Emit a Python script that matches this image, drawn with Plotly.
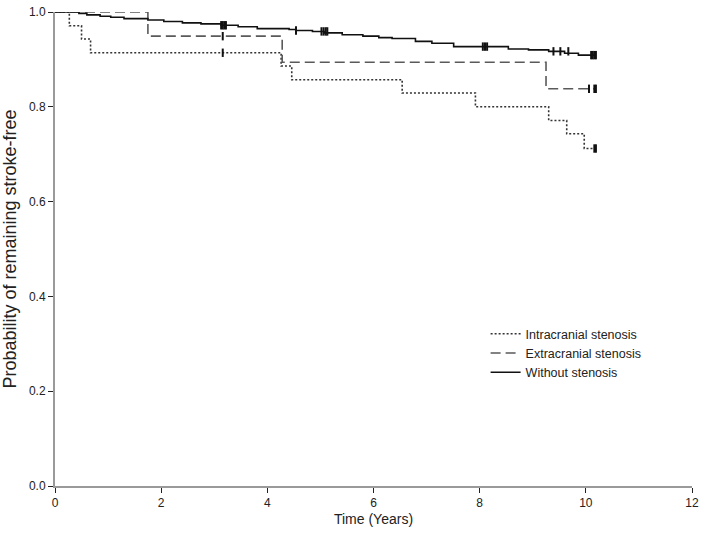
import plotly.graph_objects as go

# ---- data ----
intra_t = [0.0, 0.27, 0.50, 0.67, 4.26, 4.46, 6.54, 7.92, 9.30, 9.64, 9.97, 10.18]
intra_s = [1.0, 0.971, 0.943, 0.914, 0.886, 0.857, 0.829, 0.800, 0.771, 0.743, 0.712, 0.712]
intra_cens_t = [3.16, 10.16, 10.19]
intra_cens_s = [0.914, 0.712, 0.712]

extra_t = [0.0, 1.75, 4.28, 9.25, 10.18]
extra_s = [1.0, 0.949, 0.894, 0.838, 0.838]
extra_cens_t = [3.16, 10.06, 10.16, 10.19]
extra_cens_s = [0.949, 0.838, 0.838, 0.838]

none_t = [0.0, 0.45, 0.60, 0.85, 1.05, 1.30, 1.75, 2.05, 2.40, 2.75, 3.13, 3.45, 3.81,
          4.41, 4.54, 4.85, 5.07, 5.41, 5.80, 6.10, 6.35, 6.79, 7.10, 7.51, 8.54,
          8.92, 9.30, 9.60, 9.86, 10.18]
none_s = [1.0, 0.997, 0.994, 0.991, 0.989, 0.986, 0.983, 0.980, 0.977, 0.975, 0.972,
          0.969, 0.965, 0.963, 0.961, 0.959, 0.956, 0.952, 0.949, 0.946, 0.944, 0.938,
          0.934, 0.927, 0.922, 0.920, 0.917, 0.913, 0.909, 0.909]
none_cens_t = [3.13, 3.16, 3.19, 3.22, 4.54, 5.02, 5.06, 5.10, 5.13, 8.06, 8.10, 8.14,
               9.39, 9.52, 9.67, 10.10, 10.13, 10.16, 10.19]
none_cens_s = [0.972, 0.972, 0.972, 0.972, 0.961, 0.959, 0.959, 0.959, 0.959, 0.927,
               0.927, 0.927, 0.917, 0.917, 0.917, 0.909, 0.909, 0.909, 0.909]

series_names = ["Intracranial stenosis", "Extracranial stenosis", "Without stenosis"]
x_ticks = [0, 2, 4, 6, 8, 10, 12]
y_ticks = [0.0, 0.2, 0.4, 0.6, 0.8, 1.0]

fig = go.Figure()

styles = [
    (intra_t, intra_s, intra_cens_t, intra_cens_s, "#333333", "2px,2px"),
    (extra_t, extra_s, extra_cens_t, extra_cens_s, "#5a5a5a", "10px,5px"),
    (none_t, none_s, none_cens_t, none_cens_s, "#111111", "solid"),
]

for name, (t, s, ct, cs, col, dash) in zip(series_names, styles):
    fig.add_trace(go.Scatter(
        x=t, y=s, mode="lines", name=name,
        line=dict(color=col, width=1.6, dash=dash, shape="hv"),
    ))
for name, (t, s, ct, cs, col, dash) in zip(series_names, styles):
    fig.add_trace(go.Scatter(
        x=ct, y=cs, mode="markers", showlegend=False, hoverinfo="skip",
        marker=dict(symbol="line-ns-open", size=6, color="#111111",
                    line=dict(color="#111111", width=2)),
    ))

axis_common = dict(
    showgrid=False, zeroline=False, showline=True, linecolor="#9a9a9a", linewidth=2,
    ticks="outside", ticklen=5, tickwidth=1, tickcolor="#222222",
    tickfont=dict(family="Liberation Sans, Arial, sans-serif", size=12, color="#222222"),
    ticklabeloverflow="allow", mirror=False,
)

fig.update_layout(
    width=704, height=542,
    margin=dict(l=55, r=10, t=5, b=56),
    paper_bgcolor="white", plot_bgcolor="white",
    font=dict(family="Liberation Sans, Arial, sans-serif", color="#222222"),
    xaxis=dict(range=[0, 12], tickvals=x_ticks, ticktext=[str(v) for v in x_ticks],
               title=dict(text="Time (Years)", font=dict(size=14), standoff=5),
               **axis_common),
    yaxis=dict(range=[0, 1], tickvals=y_ticks, ticktext=[f"{v:.1f}" for v in y_ticks],
               title=dict(text="Probability of remaining stroke-free", font=dict(size=18), standoff=8),
               **axis_common),
    legend=dict(x=0.676, y=0.352, xanchor="left", yanchor="top",
                bgcolor="rgba(0,0,0,0)", font=dict(size=12.5, color="#222222"),
                itemwidth=30, tracegroupgap=0),
    showlegend=True,
)

fig.write_html("out.html", post_script="document.body.style.margin='0';",
               config={"displayModeBar": False})
